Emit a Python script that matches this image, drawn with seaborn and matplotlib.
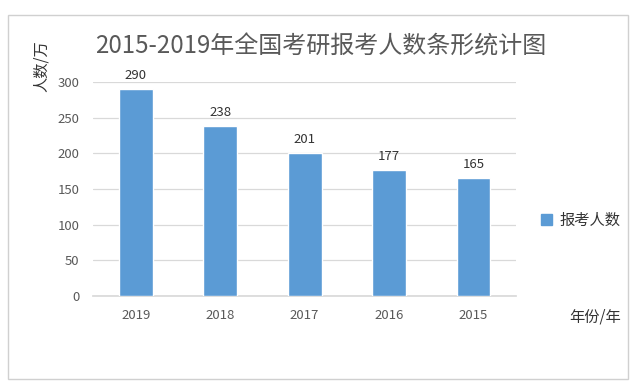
import matplotlib.pyplot as plt
import matplotlib.patches as mpatches
import seaborn as sns
import pandas as pd

# 数据
years = ['2019', '2018', '2017', '2016', '2015']
counts = [290, 238, 201, 177, 165]
series_name = '报考人数'

sns.set_theme(style='white')
plt.rcParams['font.family'] = ['Noto Sans CJK SC', 'DejaVu Sans']

df = pd.DataFrame({'年份': years, series_name: counts})

bar_color = '#5B9BD5'
text_gray = '#595959'

fig = plt.figure(figsize=(6.4, 3.86), dpi=100)
ax = fig.add_axes([0.146, 0.233, 0.66, 0.555])

sns.barplot(data=df, x='年份', y=series_name, order=years, color=bar_color,
            width=0.4, saturation=1, ax=ax, label=series_name, zorder=3)

ax.set_ylim(0, 300)
ax.set_yticks(range(0, 301, 50))
ax.yaxis.grid(True, color='#D9D9D9', linewidth=0.9, zorder=0)
for s in ['top', 'right', 'left']:
    ax.spines[s].set_visible(False)
ax.spines['bottom'].set_color('#D9D9D9')
ax.tick_params(axis='both', length=0, colors=text_gray, labelsize=9.5)
ax.tick_params(axis='x', pad=9)
ax.tick_params(axis='y', pad=10)
ax.set_xlabel('')
ax.set_ylabel('')

# 数据标签
ax.bar_label(ax.containers[0], labels=[str(v) for v in counts], padding=5,
             fontsize=9.5, color='#333333')

# 标题和轴名
fig.text(0.148, 0.88, '2015-2019年全国考研报考人数条形统计图', fontsize=17.3,
         color=text_gray, va='center', ha='left')
fig.text(0.065, 0.828, '人数/万', rotation=90, fontsize=11, color='#333333',
         va='center', ha='center')
fig.text(0.889, 0.18, '年份/年', fontsize=11, color='#333333',
         va='center', ha='left')

# 图例
handle = mpatches.Patch(color=bar_color, label=series_name)
ax.legend(handles=[handle], loc='center left', bbox_to_anchor=(0.824, 0.43),
          bbox_transform=fig.transFigure, frameon=False, fontsize=11,
          handlelength=0.7, handleheight=0.7, handletextpad=0.5,
          labelcolor='#333333')

# 外框
border = mpatches.Rectangle((0.013, 0.018), 0.968, 0.943, transform=fig.transFigure,
                            fill=False, edgecolor='#D0D0D0', linewidth=1)
fig.patches.append(border)

fig.savefig('out.png', dpi=100)
